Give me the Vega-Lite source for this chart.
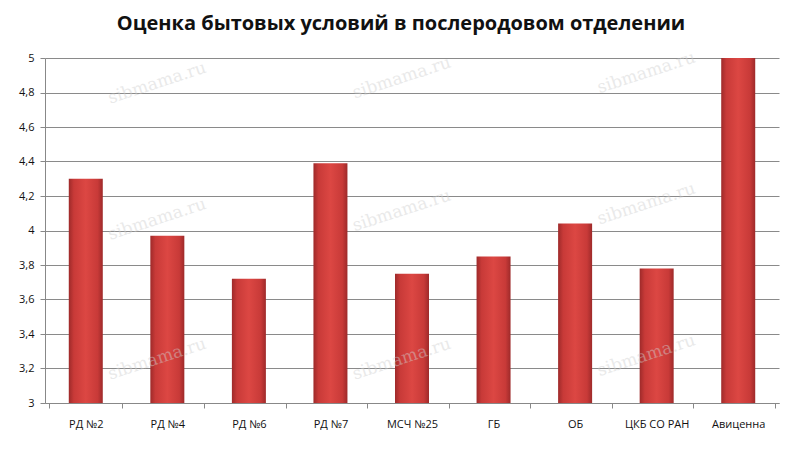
{
  "$schema": "https://vega.github.io/schema/vega-lite/v6.json",
  "autosize": "none",
  "width": 734,
  "height": 345,
  "padding": {"left": 45, "top": 58, "right": 21, "bottom": 49},
  "background": "white",
  "title": {
    "text": "Оценка бытовых условий в послеродовом отделении",
    "font": "Open Sans",
    "fontSize": 20,
    "fontWeight": "bold",
    "color": "#111111",
    "anchor": "middle",
    "dx": -11,
    "offset": 14
  },
  "config": {
    "view": {"stroke": null},
    "axis": {"labelFont": "Open Sans", "labelColor": "#111111", "labelFontSize": 11}
  },
  "datasets": {
    "bars": [
      {"place": "РД №2", "score": 4.30},
      {"place": "РД №4", "score": 3.97},
      {"place": "РД №6", "score": 3.72},
      {"place": "РД №7", "score": 4.39},
      {"place": "МСЧ №25", "score": 3.75},
      {"place": "ГБ", "score": 3.85},
      {"place": "ОБ", "score": 4.04},
      {"place": "ЦКБ СО РАН", "score": 3.78},
      {"place": "Авиценна", "score": 5.0}
    ],
    "marks": [
      {"place": "РД №2", "score": 4.72, "label": "sibmama.ru"},
      {"place": "РД №7", "score": 4.75, "label": "sibmama.ru"},
      {"place": "ОБ", "score": 4.78, "label": "sibmama.ru"},
      {"place": "РД №2", "score": 3.93, "label": "sibmama.ru"},
      {"place": "РД №7", "score": 3.98, "label": "sibmama.ru"},
      {"place": "ОБ", "score": 4.02, "label": "sibmama.ru"},
      {"place": "РД №2", "score": 3.12, "label": "sibmama.ru"},
      {"place": "РД №7", "score": 3.12, "label": "sibmama.ru"},
      {"place": "ОБ", "score": 3.14, "label": "sibmama.ru"}
    ]
  },
  "encoding": {
    "x": {
      "field": "place",
      "type": "nominal",
      "sort": null,
      "title": null,
      "axis": {
        "labelAngle": 0,
        "labelPadding": 16,
        "labelOverlap": false,
        "tickBand": "extent",
        "tickSize": 5,
        "tickColor": "#888888",
        "domainColor": "#888888",
        "labelBaseline": "middle"
      }
    },
    "y": {
      "field": "score",
      "type": "quantitative",
      "scale": {"domain": [3, 5], "zero": false},
      "title": null,
      "axis": {
        "values": [3, 3.2, 3.4, 3.6, 3.8, 4, 4.2, 4.4, 4.6, 4.8, 5],
        "labelExpr": "replace(format(datum.value, '.1~f'), '.', ',')",
        "labelOverlap": false,
        "labelPadding": 6,
        "tickSize": 5,
        "tickColor": "#888888",
        "domainColor": "#888888",
        "gridColor": "#8a8a8a",
        "gridWidth": 1
      }
    }
  },
  "layer": [
    {
      "data": {"name": "bars"},
      "mark": {
        "type": "bar",
        "width": 34,
        "clip": true,
        "color": {
          "gradient": "linear",
          "x1": 0, "x2": 1, "y1": 0, "y2": 0,
          "stops": [
            {"offset": 0, "color": "#9e2a2a"},
            {"offset": 0.15, "color": "#c83a38"},
            {"offset": 0.5, "color": "#dc4743"},
            {"offset": 0.85, "color": "#c83a38"},
            {"offset": 1, "color": "#9e2a2a"}
          ]
        }
      }
    },
    {
      "data": {"name": "marks"},
      "mark": {
        "type": "text",
        "angle": -18,
        "font": "DejaVu Serif",
        "fontSize": 17,
        "color": "#d0d0d0",
        "opacity": 0.45,
        "dx": 75
      },
      "encoding": {
        "text": {"field": "label"}
      }
    }
  ]
}
